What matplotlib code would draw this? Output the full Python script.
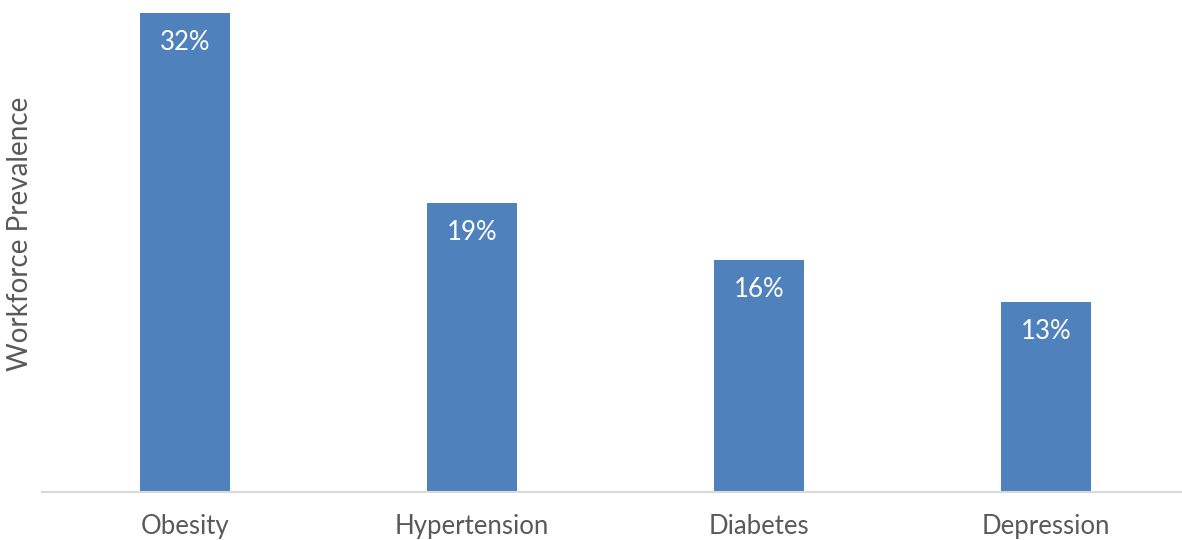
import matplotlib.pyplot as plt

categories = ['Obesity', 'Hypertension', 'Diabetes', 'Depression']
prevalence = [32.0, 19.3, 15.5, 12.7]


def main():
    plt.rcParams['font.family'] = ['Lato', 'DejaVu Sans']
    fig = plt.figure(figsize=(11.82, 5.4), dpi=100)
    ax = fig.add_axes([42 / 1182, 48 / 540, 1140 / 1182, 479 / 540])

    x = list(range(len(categories)))
    bars = ax.bar(x, prevalence, width=0.314, color='#4f81bd', zorder=2)

    for bar, val in zip(bars, prevalence):
        ax.annotate('{:.0f}%'.format(val),
                    (bar.get_x() + bar.get_width() / 2, bar.get_height()),
                    xytext=(0, -21), textcoords='offset points',
                    ha='center', va='center', color='white', fontsize=18.5)

    ax.set_xlim(-0.5, 3.474)
    ax.set_ylim(0, 32)
    ax.set_xticks(x)
    ax.set_xticklabels(categories, fontsize=18.5, color='#595959')
    ax.tick_params(axis='x', length=0, pad=16)
    ax.set_yticks([])
    ax.set_ylabel('Workforce Prevalence', fontsize=20, color='#595959')
    ax.yaxis.set_label_coords(-0.008, 0.539)

    for side in ['top', 'right', 'left']:
        ax.spines[side].set_visible(False)
    ax.spines['bottom'].set_color('#d9d9d9')
    ax.spines['bottom'].set_linewidth(1.5)
    ax.spines['bottom'].set_zorder(3)

    fig.savefig('out.png', dpi=100)


if __name__ == '__main__':
    main()
